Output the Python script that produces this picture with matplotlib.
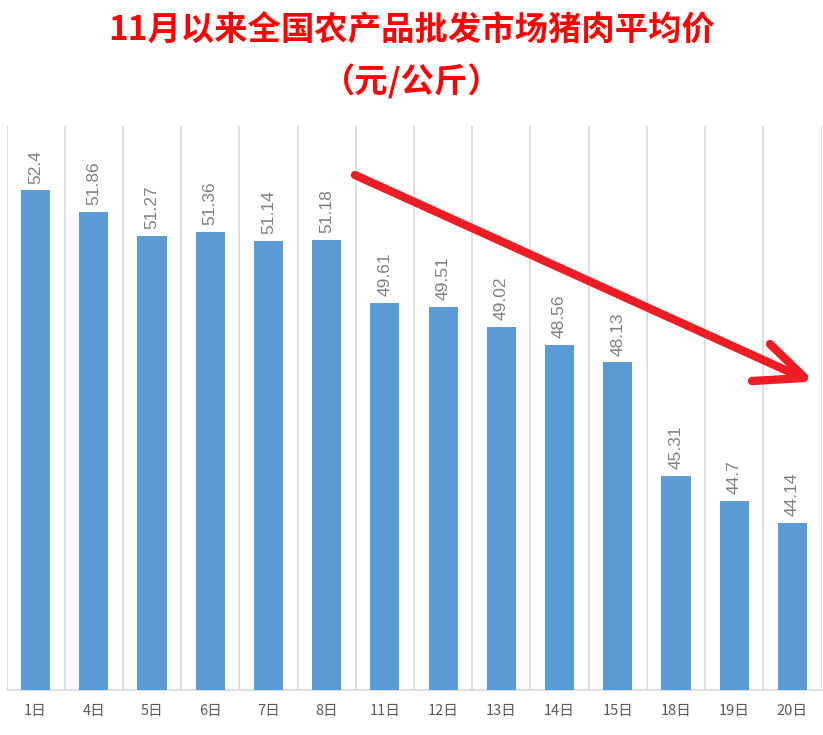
import matplotlib
matplotlib.use('Agg')
import matplotlib.pyplot as plt
from matplotlib.lines import Line2D
import numpy as np

plt.rcParams['font.family'] = ['Noto Sans CJK SC', 'DejaVu Sans']

days = ['1日', '4日', '5日', '6日', '7日', '8日', '11日', '12日', '13日',
        '14日', '15日', '18日', '19日', '20日']
prices = [52.4, 51.86, 51.27, 51.36, 51.14, 51.18, 49.61, 49.51, 49.02,
          48.56, 48.13, 45.31, 44.7, 44.14]
labels = ['52.4', '51.86', '51.27', '51.36', '51.14', '51.18', '49.61', '49.51',
          '49.02', '48.56', '48.13', '45.31', '44.7', '44.14']

W, H = 823, 735
fig = plt.figure(figsize=(W / 100, H / 100), dpi=100)
ax = fig.add_axes([6.5 / W, 1 - 690 / H, 815 / W, (690 - 126) / H])

x = np.arange(len(days))
ax.bar(x, prices, width=0.5, color='#5b9bd5', zorder=3)

for xi, v, t in zip(x, prices, labels):
    ax.annotate(t, (xi, v), xytext=(0, 5), textcoords='offset points',
                rotation=90, ha='center', va='bottom', fontsize=12.5,
                color='#808080', family=['Liberation Sans', 'DejaVu Sans'])

ax.set_xlim(-0.5, len(days) - 0.5)
ax.set_ylim(40, 54)
ax.set_xticks(x)
ax.set_xticklabels(days, fontsize=10.5, color='#595959')
ax.set_xticks(np.arange(-0.5, len(days), 1), minor=True)
ax.grid(True, which='minor', axis='x', color='#d9d9d9', linewidth=1.2, zorder=0)
ax.tick_params(axis='x', which='both', length=0, pad=10)
ax.set_yticks([])
for s in ['left', 'right', 'top']:
    ax.spines[s].set_visible(False)
ax.spines['bottom'].set_color('#d9d9d9')
ax.spines['bottom'].set_linewidth(1.2)

fig.text(0.5, 1 - 31 / H, '11月以来全国农产品批发市场猪肉平均价', ha='center', va='center',
         fontsize=24, fontweight='bold', color='#ff0000')
fig.text(0.5, 1 - 82 / H, '（元/公斤）', ha='center', va='center',
         fontsize=24, fontweight='bold', color='#ff0000')

# hand-drawn red arrow
red = '#ee1c25'
segs = [((355, 175), (803, 378)), ((770, 344), (804, 377)), ((752, 381), (804, 378))]
for (x0, y0), (x1, y1) in segs:
    fig.add_artist(Line2D([x0 / W, x1 / W], [1 - y0 / H, 1 - y1 / H],
                          transform=fig.transFigure, color=red, linewidth=6,
                          solid_capstyle='round'))

fig.savefig('out.png', dpi=100)
